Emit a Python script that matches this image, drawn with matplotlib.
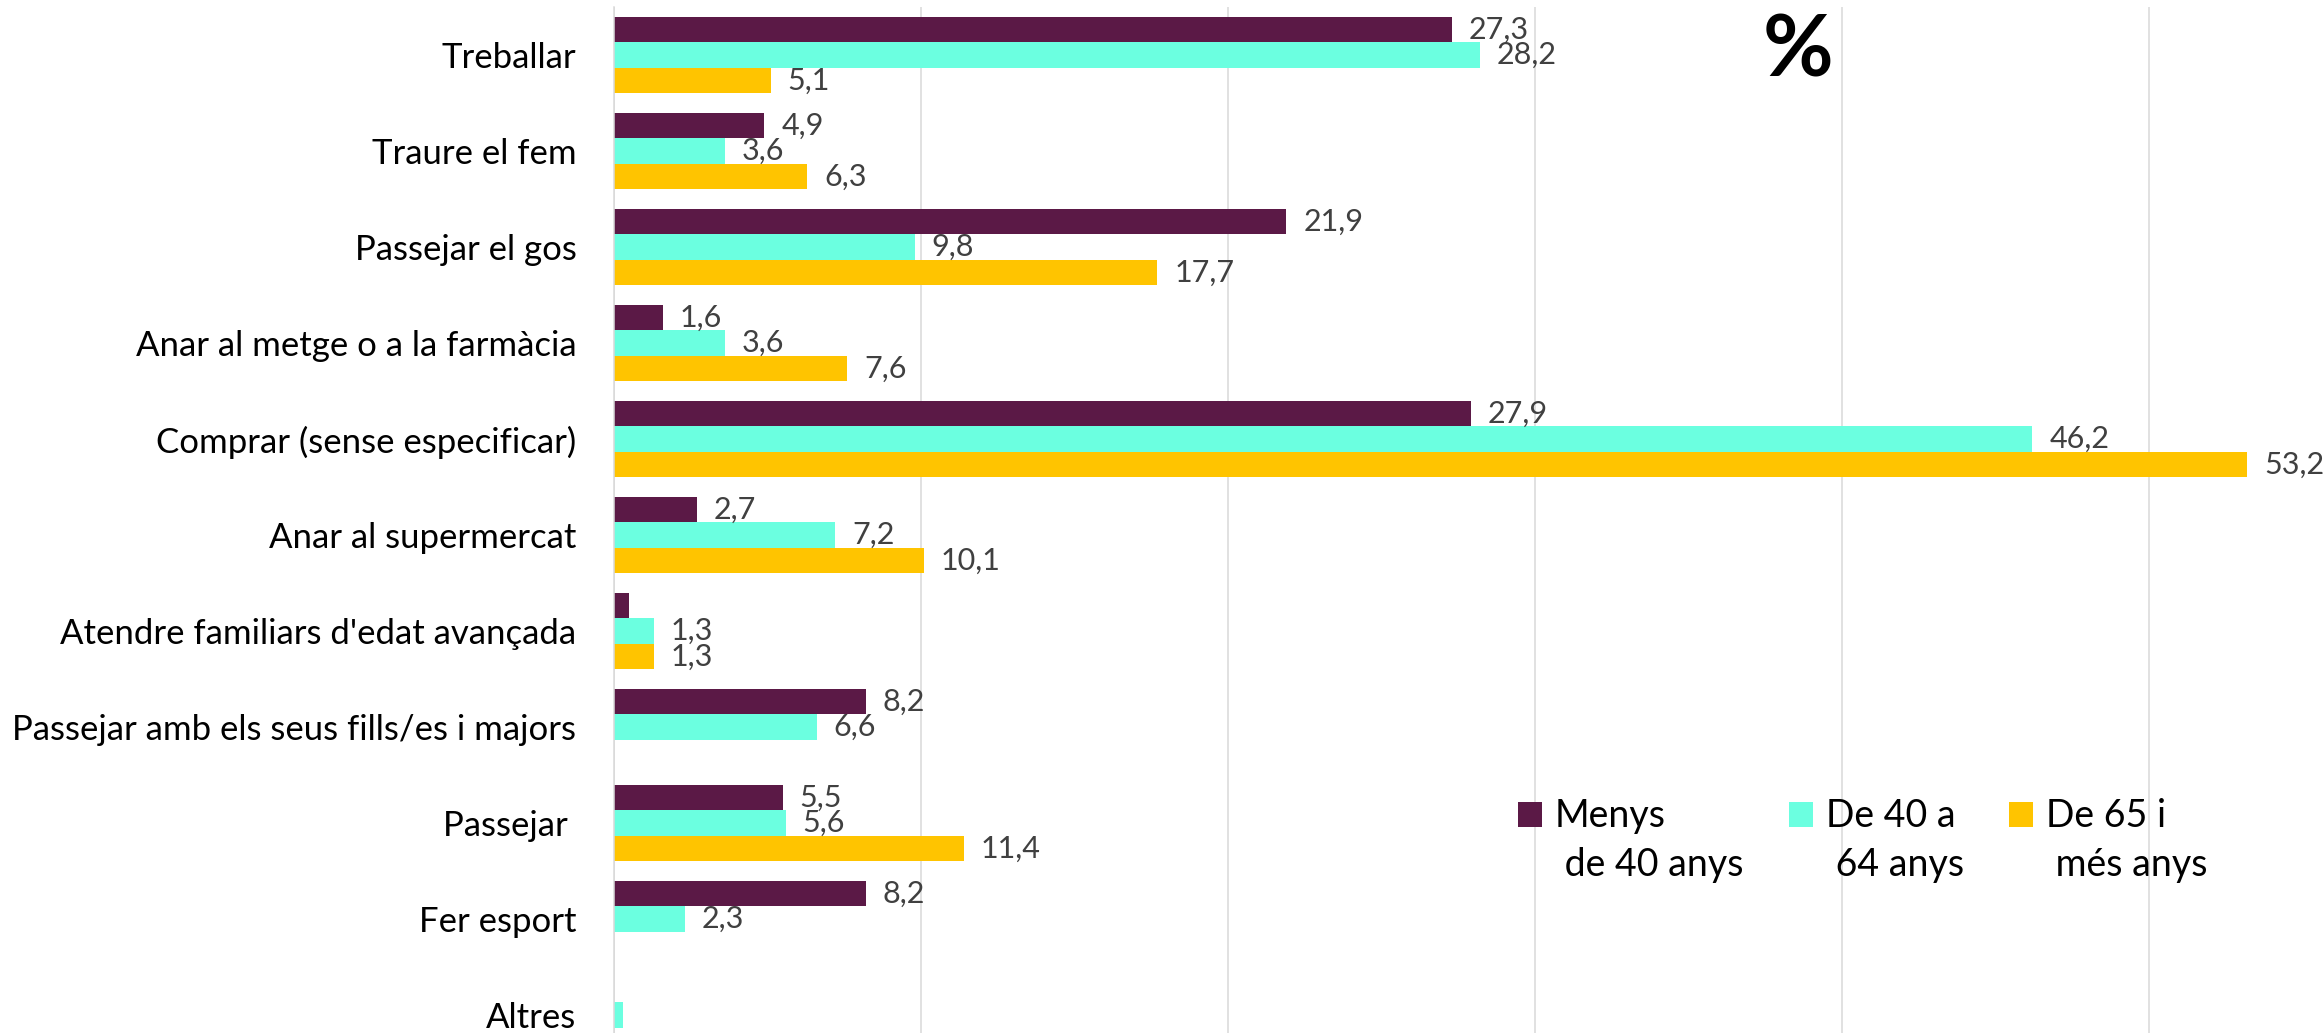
import matplotlib.pyplot as plt
import matplotlib.patches as mpatches
from matplotlib.container import BarContainer
from matplotlib.legend_handler import HandlerPatch, update_from_first_child
import numpy as np

plt.rcParams['font.family'] = ['Lato', 'DejaVu Sans']

categories = ["Treballar", "Traure el fem", "Passejar el gos",
              "Anar al metge o a la farmàcia", "Comprar (sense especificar)",
              "Anar al supermercat", "Atendre familiars d'edat avançada",
              "Passejar amb els seus fills/es i majors", "Passejar ",
              "Fer esport", "Altres"]
menys_40 = [27.3, 4.9, 21.9, 1.6, 27.9, 2.7, 0.5, 8.2, 5.5, 8.2, 0.0]
de_40_64 = [28.2, 3.6, 9.8, 3.6, 46.2, 7.2, 1.3, 6.6, 5.6, 2.3, 0.3]
de_65 = [5.1, 6.3, 17.7, 7.6, 53.2, 10.1, 1.3, 0.0, 11.4, 0.0, 0.0]
series_names = ["Menys\n de 40 anys", "De 40 a\n 64 anys", "De 65 i\n més anys"]
colors = ["#5B1946", "#6BFFE0", "#FFC400"]

fig = plt.figure(figsize=(23.23, 10.33), dpi=100)
# axes runs past the bottom of the picture, like the cropped original
ax = fig.add_axes([614 / 2323, -30 / 1033, 1709 / 2323, 1056 / 1033])

y = np.arange(len(categories))
h = 0.266
for i, (vals, name, c) in enumerate(zip([menys_40, de_40_64, de_65], series_names, colors)):
    bars = ax.barh(y + (i - 1) * h, vals, height=h, color=c, label=name, zorder=2)
    for b, v in zip(bars, vals):
        if v >= 1:  # the tiny ones carry no label in the original
            ax.text(b.get_width() + 0.55, b.get_y() + h / 2, f"{v:.1f}".replace(".", ","),
                    va="center", ha="left", fontsize=22, color="#404040")

ax.set_xlim(0, 1709 / 30.7)
ax.set_ylim(len(categories) - 0.5, -0.5)
ax.set_yticks(y, categories, fontsize=25, color="black")
ax.tick_params(axis="y", length=0, pad=27)
ax.set_xticks(np.arange(0, 60, 10))
ax.tick_params(axis="x", length=0, labelbottom=False)
ax.xaxis.grid(True, color="#D9D9D9", linewidth=1.1, zorder=0)
ax.set_axisbelow(True)
for s in ["top", "right", "bottom"]:
    ax.spines[s].set_visible(False)
ax.spines["left"].set_color("#D9D9D9")
ax.spines["left"].set_linewidth(1.1)

fig.text(1798 / 2323, 1 - 52 / 1033, "%", fontsize=62, fontweight="bold",
         ha="center", va="center")


# legend squares sit level with the first line of each two-line label
def top_square(legend, orig_handle, xdescent, ydescent, width, height, fontsize):
    return mpatches.Rectangle((-xdescent, -ydescent + 0.72 * fontsize), width, height)


leg = ax.legend(loc="upper left", bbox_to_anchor=(1518 / 2323, 1 - 798 / 1033),
                bbox_transform=fig.transFigure, ncol=3, frameon=False, fontsize=27,
                handlelength=0.64, handleheight=0.64, handletextpad=0.35,
                columnspacing=1.2, borderpad=0, borderaxespad=0,
                handler_map={BarContainer: HandlerPatch(patch_func=top_square,
                                                        update_func=update_from_first_child)})
for t in leg.get_texts():
    t.set_linespacing(1.45)

fig.savefig("out.png", dpi=100)
